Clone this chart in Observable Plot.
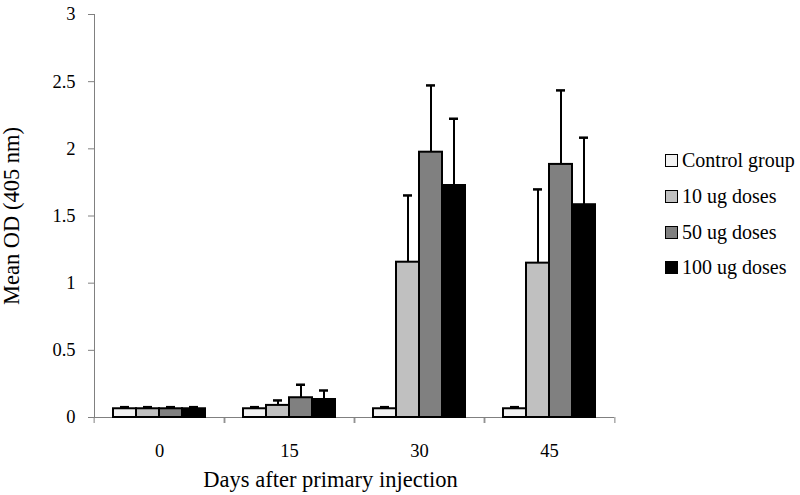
<!DOCTYPE html>
<html><head><meta charset="utf-8">
<script src="https://cdn.jsdelivr.net/npm/d3@7"></script>
<script src="https://cdn.jsdelivr.net/npm/@observablehq/plot@0.6"></script>
<style>
body{margin:0;background:#fff;font-family:"Liberation Serif","Times New Roman",serif;}
#wrap{position:relative;width:800px;height:495px;background:#fff;}
#chart{position:absolute;left:0;top:0;}
#chart svg text{font-family:"Liberation Serif","Times New Roman",serif !important;}
#chart g[aria-label$="axis label"], #chart g[aria-label$="axis label"] text{font-size:22.5px !important;}
#chart g[aria-label$="tick label"], #chart g[aria-label$="tick label"] text{font-size:18.5px !important;}
#legend{position:absolute;left:665px;top:143px;font-size:20px;color:#000;}
.item{display:flex;align-items:center;height:35.7px;white-space:nowrap;}
.sw{width:11px;height:11px;border:1px solid #000;margin-right:4px;flex:none;}
</style></head>
<body><div id="wrap"><div id="chart"></div><div id="legend"></div></div>
<script>
const days = ["0", "15", "30", "45"];
const series = ["Control group", "10 ug doses", "50 ug doses", "100 ug doses"];
const colors = ["#f2f2f2", "#c0c0c0", "#808080", "#000000"];
const yTicks = [0, 0.5, 1, 1.5, 2, 2.5, 3];
const xTitle = "Days after primary injection";
const yTitle = "Mean OD (405 nm)";

const controlMean = [0.065, 0.065, 0.065, 0.065];
const controlErr  = [0.012, 0.012, 0.012, 0.012];
const dose10Mean  = [0.065, 0.090, 1.156, 1.149];
const dose10Err   = [0.012, 0.037, 0.497, 0.549];
const dose50Mean  = [0.065, 0.147, 1.975, 1.884];
const dose50Err   = [0.012, 0.097, 0.497, 0.551];
const dose100Mean = [0.065, 0.134, 1.727, 1.584];
const dose100Err  = [0.012, 0.067, 0.497, 0.499];

const meansBySeries = [controlMean, dose10Mean, dose50Mean, dose100Mean];
const errsBySeries = [controlErr, dose10Err, dose50Err, dose100Err];
const rows = [];
days.forEach((day, i) => series.forEach((s, j) => rows.push({day, series: s, mean: meansBySeries[j][i], err: errsBySeries[j][i]})));

const W = 640, H = 495, ML = 92, MR = 25, MT = 14, MB = 78;
const step = (W - ML - MR) / days.length;
const FONT = "'Liberation Serif', 'Times New Roman', serif";

const chart = Plot.plot({
  width: W, height: H, marginLeft: ML, marginRight: MR, marginTop: MT, marginBottom: MB,
  style: {fontFamily: FONT, fontSize: "18.5px", background: "#fff", color: "#000", overflow: "visible"},
  fx: {domain: days, padding: 0, label: null},
  x: {domain: series, paddingInner: 0, paddingOuter: 0.729, axis: null},
  y: {domain: [0, 3], axis: null},
  color: {domain: series, range: colors},
  marks: [
    Plot.frame({anchor: "left", facet: "super", stroke: "#808080"}),
    Plot.ruleY([0], {stroke: "#808080"}),
    Plot.axisY({ticks: yTicks, tickFormat: d => String(d), tickSize: 6, tickPadding: 13, stroke: "#808080", fill: "#000",
      fontSize: 18.5, fontFamily: FONT,
      label: yTitle, labelAnchor: "center", labelArrow: "none", labelOffset: 91}),
    Plot.axisFx({anchor: "bottom", tickSize: 0, tickPadding: 26, fill: "#000", fontSize: 18.5, fontFamily: FONT, label: null}),
    Plot.axisFx({anchor: "bottom", tickSize: 6, tickFormat: () => "", label: null, dx: -step / 2, stroke: "#808080"}),
    Plot.axisFx({anchor: "bottom", tickSize: 6, tickFormat: () => "", label: null, dx: step / 2, stroke: "#808080"}),
    Plot.text([xTitle], {facet: "super", frameAnchor: "bottom", lineAnchor: "bottom", dy: 69, dx: -24,
      fontSize: 22.5, fontFamily: FONT, fill: "#000"}),
    Plot.barY(rows, {fx: "day", x: "series", y: "mean", fill: "series", stroke: "#000", strokeWidth: 2}),
    Plot.ruleX(rows, {fx: "day", x: "series", y1: "mean", y2: d => d.mean + d.err, stroke: "#000", strokeWidth: 2}),
    Plot.tickY(rows, {fx: "day", x: "series", y: d => d.mean + d.err, stroke: "#000", strokeWidth: 2.5, insetLeft: 7, insetRight: 7})
  ]
});
document.getElementById("chart").appendChild(chart);

const legend = document.getElementById("legend");
series.forEach((s, i) => {
  const item = document.createElement("div");
  item.className = "item";
  const sw = document.createElement("span");
  sw.className = "sw";
  sw.style.background = colors[i];
  const t = document.createElement("span");
  t.textContent = s;
  item.appendChild(sw);
  item.appendChild(t);
  legend.appendChild(item);
});
</script>
</body></html>
